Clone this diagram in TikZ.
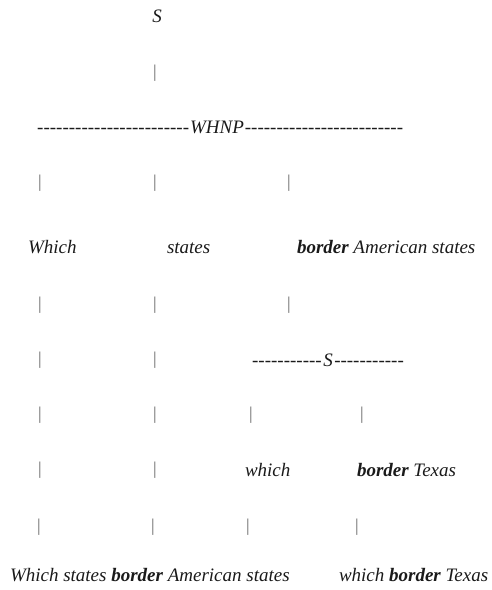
\documentclass[tikz,border=0pt]{standalone}
\usepackage{fontspec}
\setmainfont{Liberation Serif}
\definecolor{ink}{HTML}{1A1A1A}
\definecolor{barc}{HTML}{666666}
\newcommand\dashrun[1]{\foreach \i in {1,...,#1}{-\kern0pt}}
\tikzset{
  lbl/.style={inner sep=0pt, outer sep=0pt, text=ink, font=\fontsize{19}{22}\selectfont\itshape},
  dashline/.style={inner sep=0pt, outer sep=0pt, text=ink, font=\fontsize{19}{22}\selectfont\itshape},
  bar/.style={inner sep=0pt, outer sep=0pt, text=barc, font=\fontsize{18}{20}\selectfont},
}
\begin{document}
\begin{tikzpicture}[x=1pt,y=-1pt]
\useasboundingbox (0,0) rectangle (492,590);
% root
\node[lbl, anchor=base] (root) at (157,22) {S};
\node[bar] (b0) at (155,73) {|};
% WHNP line
\node[lbl, anchor=base] (whnp) at (217,133) {WHNP};
\node[dashline, anchor=base east] (whnpL) at ([xshift=-1pt]whnp.base west) {\dashrun{24}};
\node[dashline, anchor=base west] (whnpR) at ([xshift=1pt]whnp.base east) {\dashrun{25}};
% row of bars
\node[bar] (b1a) at (40,183) {|};
\node[bar] (b1b) at (155,183) {|};
\node[bar] (b1c) at (289,183) {|};
% words
\node[lbl, anchor=base west] (which1) at (28,253) {Which};
\node[lbl, anchor=base west] (states1) at (167,253) {states};
\node[lbl, anchor=base west] (bas) at (297,253) {\bfseries border\mdseries{} American states};
% bars
\node[bar] (b2a) at (40,305) {|};
\node[bar] (b2b) at (155,305) {|};
\node[bar] (b2c) at (289,305) {|};
% S line
\node[bar] (b3a) at (40,360) {|};
\node[bar] (b3b) at (155,360) {|};
\node[lbl, anchor=base] (s2) at (328,366) {S};
\node[dashline, anchor=base east] (s2L) at ([xshift=-1.5pt]s2.base west) {\dashrun{11}};
\node[dashline, anchor=base west] (s2R) at ([xshift=1.5pt]s2.base east) {\dashrun{11}};
% bars
\node[bar] (b4a) at (40,415) {|};
\node[bar] (b4b) at (155,415) {|};
\node[bar] (b4c) at (251,415) {|};
\node[bar] (b4d) at (362,415) {|};
% which / border Texas
\node[bar] (b5a) at (40,470) {|};
\node[bar] (b5b) at (155,470) {|};
\node[lbl, anchor=base west] (which2) at (245,476) {which};
\node[lbl, anchor=base west] (bt) at (357,476) {\bfseries border\mdseries{} Texas};
% bars
\node[bar] (b6a) at (39,527) {|};
\node[bar] (b6b) at (153,527) {|};
\node[bar] (b6c) at (248,527) {|};
\node[bar] (b6d) at (357,527) {|};
% bottom
\node[lbl, anchor=base west] (sent1) at (10,581) {Which states \bfseries border\mdseries{} American states};
\node[lbl, anchor=base west] (sent2) at (339,581) {which \bfseries border\mdseries{} Texas};
\end{tikzpicture}
\end{document}
